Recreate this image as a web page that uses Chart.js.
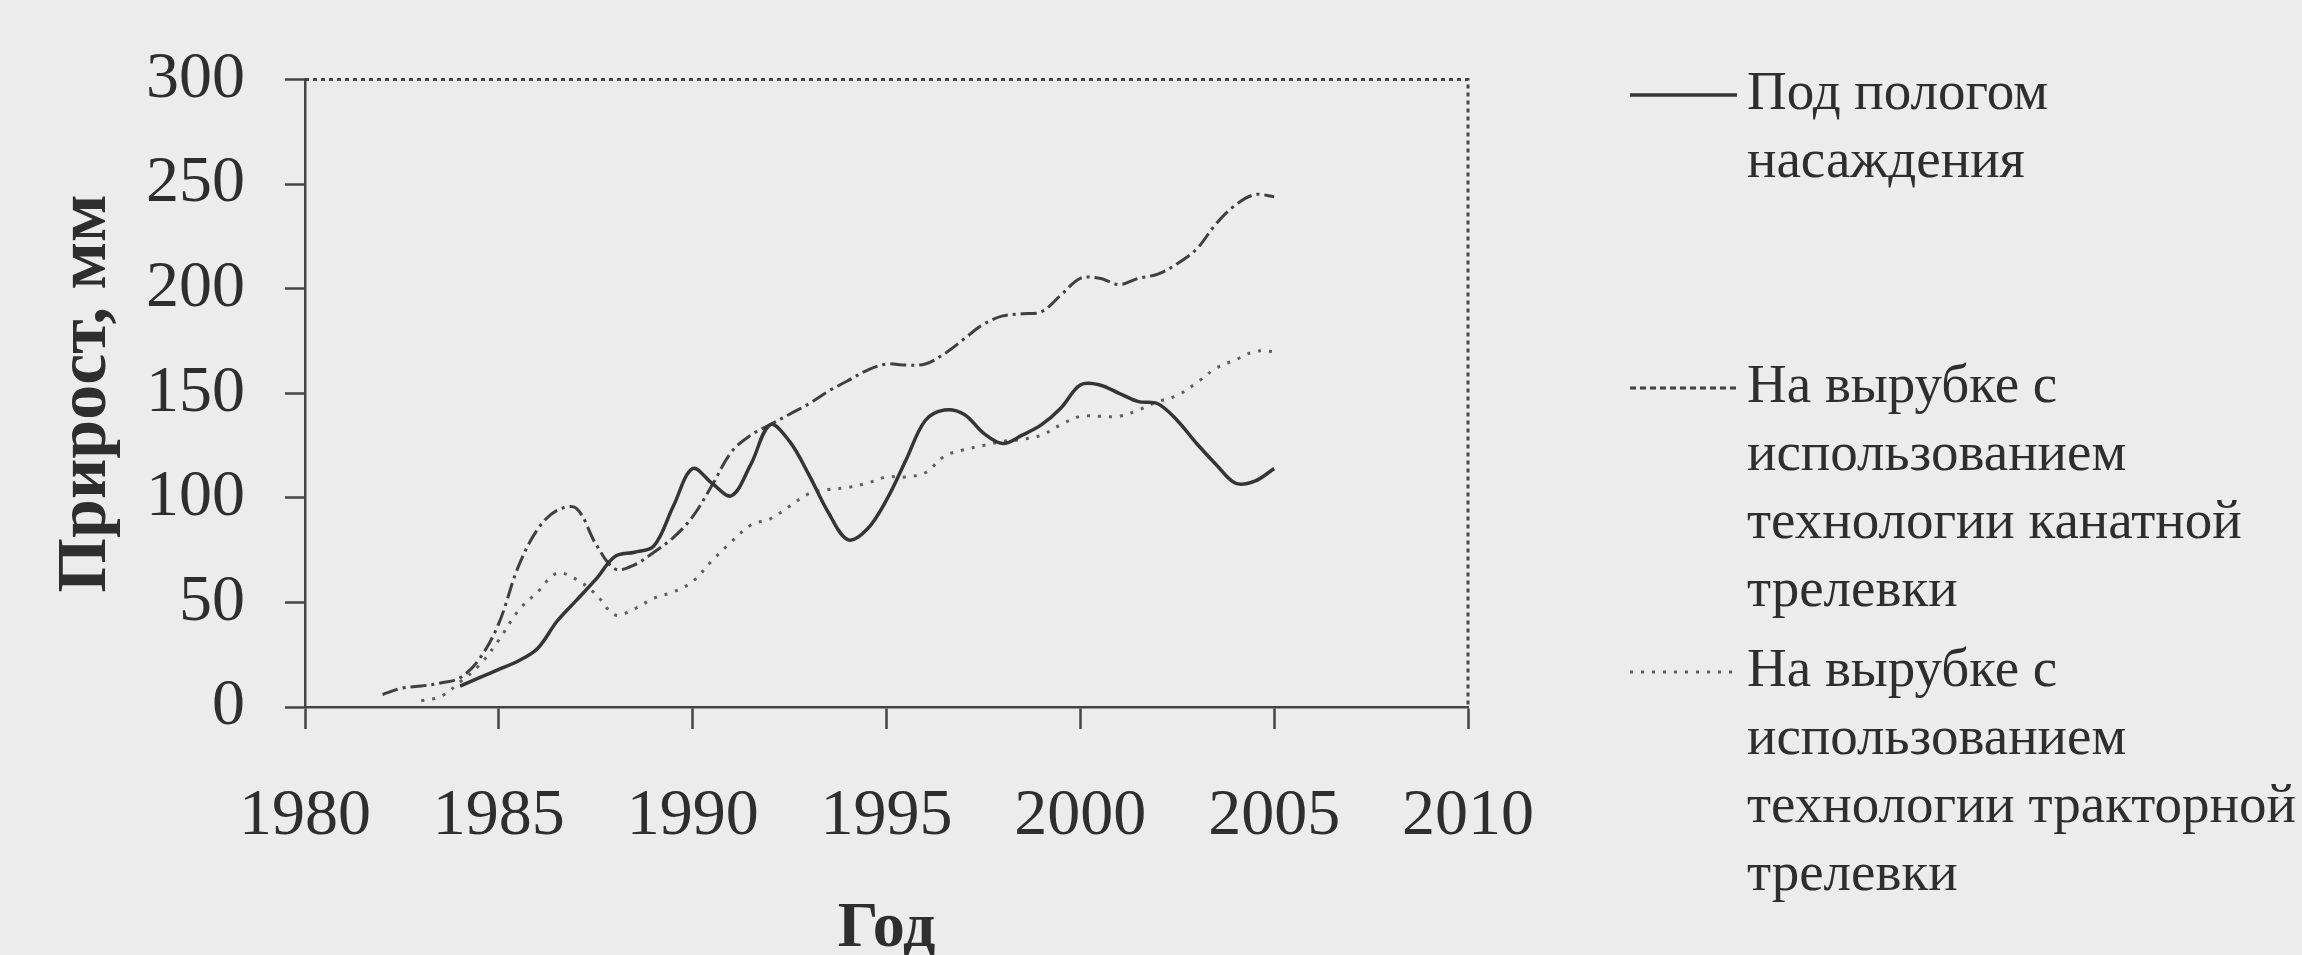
<!DOCTYPE html>
<html lang="ru">
<head>
    <meta charset="utf-8" />
    <title>Прирост, мм</title>
    <style>
        html,
        body {
            margin: 0;
            padding: 0;
            background: #ececec;
        }

        #wrap {
            position: relative;
            width: 2302px;
            height: 955px;
        }
    </style>
</head>
<body>
    <div id="wrap">
        <canvas id="chart" width="2302" height="955"></canvas>
    </div>

    <script src="https://cdn.jsdelivr.net/npm/chart.js@4.4.3/dist/chart.umd.min.js"></script>
    <script>
        // годы (по полугодиям)
        const years = [
            1982, 1982.5, 1983, 1983.5, 1984, 1984.5, 1985, 1985.5, 1986, 1986.5,
            1987, 1987.5, 1988, 1988.5, 1989, 1989.5, 1990, 1990.5, 1991, 1991.5,
            1992, 1992.5, 1993, 1993.5, 1994, 1994.5, 1995, 1995.5, 1996, 1996.5,
            1997, 1997.5, 1998, 1998.5, 1999, 1999.5, 2000, 2000.5, 2001, 2001.5,
            2002, 2002.5, 2003, 2003.5, 2004, 2004.5, 2005
        ];

        // Под пологом насаждения
        const underCanopy = [
            null, null, null, null, 10, 14, 18, 22, 28, 41,
            51, 61, 72, 74, 77, 96, 114, 107, 101, 116,
            135, 127, 111, 93, 80, 85, 99, 118, 137, 142,
            140, 131, 126, 130, 135, 143, 154, 154, 150, 146,
            145, 137, 126, 116, 107, 108, 114
        ];

        // На вырубке, канатная трелевка
        const cableSkidding = [
            6, 9, 10, 11.5, 14, 23, 40, 67, 85, 94,
            95, 78, 66, 68, 74, 81, 91, 106, 122, 130,
            135, 140, 145, 151, 156, 161, 164, 163.5, 164, 169,
            176, 183, 187, 188, 189, 197, 205, 205, 202, 205,
            207, 212, 219, 231, 240, 245, 244
        ];

        // На вырубке, тракторная трелевка
        const tractorSkidding = [
            null, null, 3, 5, 12, 20, 32, 46, 55, 64,
            61, 54, 44, 47, 52, 55, 60, 70, 79, 87,
            90, 96, 102, 104, 105, 107, 110, 110, 112, 120,
            123, 125, 127, 128, 130, 135, 139, 139, 139, 142,
            146, 149, 155, 162, 166, 170, 170
        ];

        const seriesNames = [
            ['Под пологом', 'насаждения'],
            ['На вырубке с', 'использованием', 'технологии канатной', 'трелевки'],
            ['На вырубке с', 'использованием', 'технологии тракторной', 'трелевки']
        ];

        const xTicks = [1980, 1985, 1990, 1995, 2000, 2005, 2010];
        const yTicks = [0, 50, 100, 150, 200, 250, 300];

        const serif = "'Liberation Serif', 'Times New Roman', serif";
        const ink = '#2e2e2e';

        function toPoints(values) {
            return years.map((yr, i) => ({ x: yr, y: values[i] }));
        }

        const styles = [
            { borderColor: '#353535', borderWidth: 3.5, borderDash: [] },
            { borderColor: '#404040', borderWidth: 3, borderDash: [16, 5, 3, 5] },
            { borderColor: '#5e5e5e', borderWidth: 3, borderDash: [3, 8] }
        ];

        const datasets = [underCanopy, cableSkidding, tractorSkidding].map((values, i) => ({
            label: seriesNames[i].join(' '),
            data: toPoints(values),
            borderColor: styles[i].borderColor,
            borderWidth: styles[i].borderWidth,
            borderDash: styles[i].borderDash,
            pointRadius: 0,
            tension: 0.35,
            fill: false
        }));

        // пунктирная рамка сверху и справа
        const frame = {
            id: 'frame',
            beforeDatasetsDraw(chart) {
                const { ctx, chartArea: a } = chart;
                ctx.save();
                ctx.strokeStyle = '#444';
                ctx.lineWidth = 3;
                ctx.setLineDash([4, 4]);
                ctx.beginPath();
                ctx.moveTo(a.left, a.top);
                ctx.lineTo(a.right, a.top);
                ctx.lineTo(a.right, a.bottom);
                ctx.stroke();
                ctx.restore();
            }
        };

        // легенда справа, многострочные подписи
        const sideLegend = {
            id: 'sideLegend',
            afterDraw(chart) {
                const { ctx } = chart;
                const rows = [95, 388, 672];
                const lineGap = 68;
                ctx.save();
                ctx.font = `55px ${serif}`;
                ctx.fillStyle = ink;
                ctx.textBaseline = 'middle';
                chart.data.datasets.forEach((ds, i) => {
                    const y0 = rows[i];
                    ctx.strokeStyle = ds.borderColor;
                    ctx.lineWidth = ds.borderWidth;
                    ctx.setLineDash(i === 1 ? [6, 4] : ds.borderDash);
                    ctx.beginPath();
                    ctx.moveTo(1630, y0);
                    ctx.lineTo(1737, y0);
                    ctx.stroke();
                    seriesNames[i].forEach((line, k) => {
                        ctx.fillText(line, 1747, y0 + k * lineGap);
                    });
                });
                ctx.restore();
            }
        };

        const canvas = document.getElementById('chart');

        const config = {
            type: 'line',
            data: { datasets: datasets },
            options: {
                responsive: false,
                animation: false,
                layout: {
                    padding: { left: 0, top: 19, right: 834, bottom: 0 }
                },
                plugins: {
                    legend: { display: false },
                    tooltip: { enabled: false }
                },
                scales: {
                    x: {
                        type: 'linear',
                        min: 1980,
                        max: 2010,
                        afterFit(scale) { scale.height = 248; },
                        afterBuildTicks(scale) { scale.ticks = xTicks.map(v => ({ value: v })); },
                        ticks: {
                            color: ink,
                            padding: 48,
                            font: { family: serif, size: 66 },
                            callback: v => String(v)
                        },
                        grid: {
                            drawOnChartArea: false,
                            tickLength: 22,
                            tickColor: '#444',
                            tickWidth: 2.5
                        },
                        border: { color: '#444', width: 2.5, dash: [6, 3] },
                        title: {
                            display: true,
                            text: 'Год',
                            color: ink,
                            padding: { top: 0, bottom: 0 },
                            font: { family: serif, size: 64, weight: 'bold', lineHeight: 0.8 }
                        }
                    },
                    y: {
                        min: 0,
                        max: 300,
                        afterFit(scale) { scale.width = 305; },
                        afterBuildTicks(scale) { scale.ticks = yTicks.map(v => ({ value: v })); },
                        ticks: {
                            color: ink,
                            padding: 40,
                            font: { family: serif, size: 66 }
                        },
                        grid: {
                            drawOnChartArea: false,
                            tickLength: 20,
                            tickColor: '#444',
                            tickWidth: 2.5
                        },
                        border: { color: '#444', width: 2.5, dash: [6, 3] },
                        title: {
                            display: true,
                            text: 'Прирост, мм',
                            color: ink,
                            padding: { top: 52, bottom: 0 },
                            font: { family: serif, size: 70, weight: 'bold', lineHeight: 1 }
                        }
                    }
                }
            },
            plugins: [frame, sideLegend]
        };

        new Chart(canvas, config);
    </script>
</body>
</html>
